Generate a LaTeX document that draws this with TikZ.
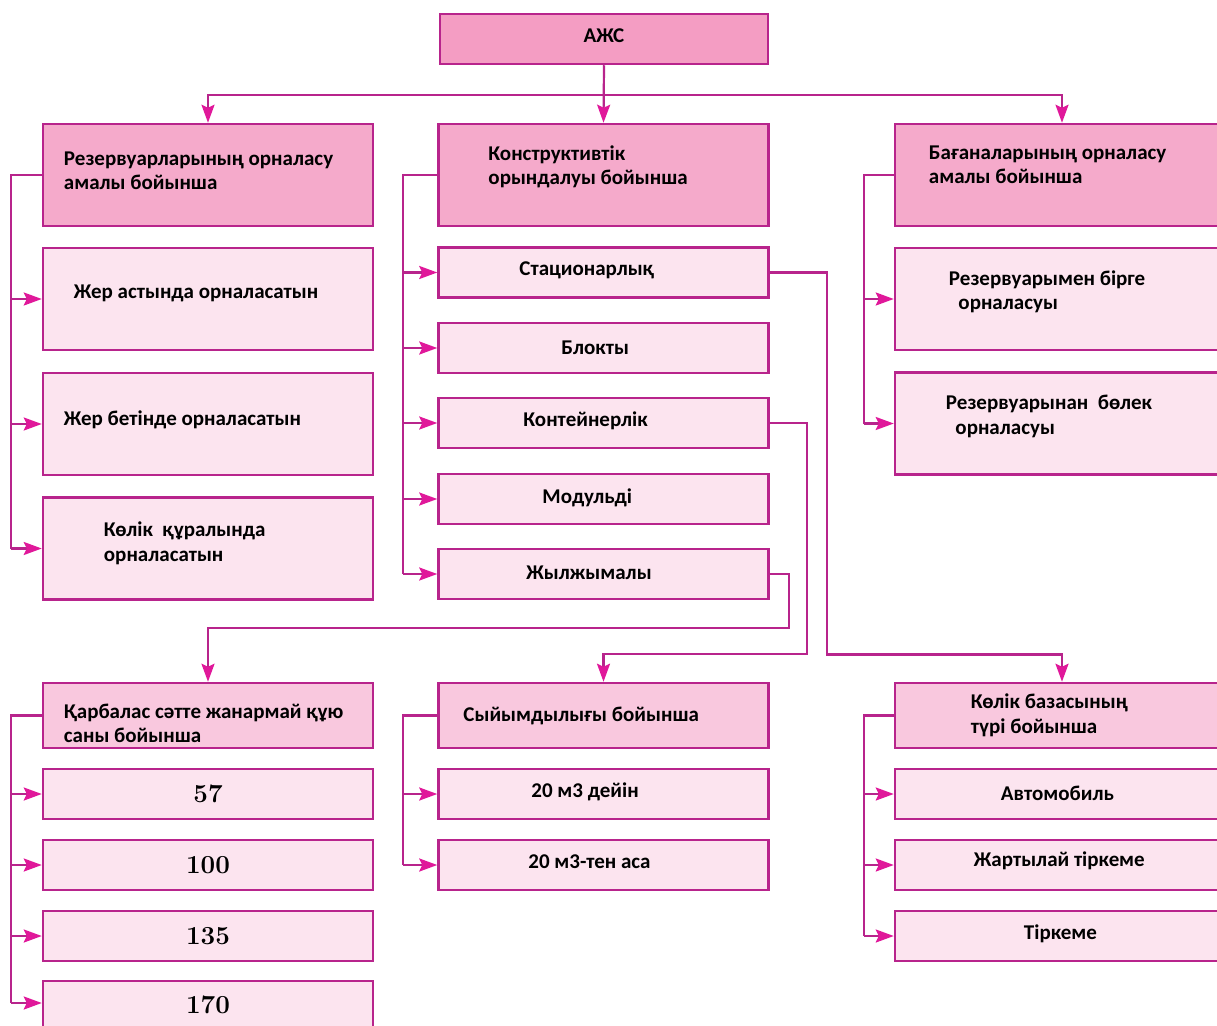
\documentclass[tikz,border=0pt]{standalone}
\usepackage{fontspec}
\setsansfont{Carlito}
\usetikzlibrary{arrows.meta}

\definecolor{edge}{HTML}{B8248C}
\definecolor{tip}{HTML}{E0189A}
\definecolor{rootfill}{HTML}{F49DC3}
\definecolor{headfill}{HTML}{F5AACB}
\definecolor{subfill}{HTML}{F9C8DE}
\definecolor{leaffill}{HTML}{FCE4EF}

\begin{document}
\begin{tikzpicture}[x=1pt, y=-1pt,
    box/.style={draw=edge, line width=2.5pt, inner sep=0pt},
    root/.style={box, fill=rootfill, minimum width=328, minimum height=50},
    head/.style={box, fill=headfill, minimum width=330, minimum height=102},
    sub/.style={box, fill=subfill, minimum width=330, minimum height=65},
    tall/.style={box, fill=leaffill, minimum width=330, minimum height=102},
    leaf/.style={box, fill=leaffill, minimum width=330, minimum height=50},
    wide/.style={minimum width=334},
    txt/.style={inner sep=0pt, anchor=west, align=left,
                font=\sffamily\bfseries\fontsize{21}{24.5}\selectfont},
    num/.style={inner sep=0pt, font=\rmfamily\bfseries\fontsize{26}{30}\selectfont},
    line/.style={draw=edge, line width=2.2pt},
    flow/.style={line, -{Stealth[length=18pt, width=13pt, inset=3pt, color=tip, fill=tip]}},
]

    \useasboundingbox (0,0) rectangle (1217,1025);
    \fill[white] (0,0) rectangle (1217,1025);
    \clip (0,0) rectangle (1217,1025);

    % top level
    \node[root] (azs) at (604,39) {};
    \node[txt, anchor=center] (azs-l) at ([yshift=3]azs.center) {АЖС};

    \node[head] (res) at (208,175) {};
    \node[head] (con) at (603.5,175) {};
    \node[head, wide] (bag) at (1062,175) {};
    \node[txt] (res-l) at ([xshift=22, yshift=4]res.west) {Резервуарларының орналасу\\амалы бойынша};
    \node[txt] (con-l) at ([xshift=51, yshift=8]con.west) {Конструктивтік\\орындалуы бойынша};
    \node[txt] (bag-l) at ([xshift=35, yshift=10]bag.west) {Бағаналарының орналасу\\амалы бойынша};

    \draw[flow] (azs.south) -- (con.north);
    \coordinate (top) at (azs.south |- 0,95);
    \draw[flow] (top) -| (res.north);
    \draw[flow] (top) -| (bag.north);

    % reservoirs
    \node[tall] (res1) at (208,299) {};
    \node[tall] (res2) at (208,424) {};
    \node[tall] (res3) at (208,548.5) {};
    \node[txt] (res1-l) at ([xshift=32, yshift=6]res1.west) {Жер астында орналасатын};
    \node[txt] (res2-l) at ([xshift=22, yshift=4]res2.west) {Жер бетінде орналасатын};
    \node[txt] (res3-l) at ([xshift=62, yshift=5]res3.west) {Көлік\ \ құралында\\орналасатын};

    % construction
    \node[leaf] (stat) at (603.5,272.5) {};
    \node[leaf] (blok) at (603.5,348) {};
    \node[leaf] (kont) at (603.5,423) {};
    \node[leaf] (modul) at (603.5,499) {};
    \node[leaf] (zhyl) at (603.5,574) {};
    \node[txt] (stat-l) at ([xshift=82, yshift=2]stat.west) {Стационарлық};
    \node[txt] (blok-l) at ([xshift=124]blok.west) {Блокты};
    \node[txt] (kont-l) at ([xshift=86, yshift=2]kont.west) {Контейнерлік};
    \node[txt] (modul-l) at ([xshift=105, yshift=1]modul.west) {Модульді};
    \node[txt] (zhyl-l) at ([xshift=89, yshift=1]zhyl.west) {Жылжымалы};

    % columns
    \node[tall, wide] (bag1) at (1062,299) {};
    \node[tall, wide] (bag2) at (1062,423.5) {};
    \node[txt] (bag1-l) at ([xshift=55, yshift=7]bag1.west) {Резервуарымен бірге\\\ \ орналасуы};
    \node[txt] (bag2-l) at ([xshift=52, yshift=7]bag2.west) {Резервуарынан\ \ бөлек\\\ \ орналасуы};

    \draw[line] (res.west) -- ++(-31,0) coordinate (resbus) -- (resbus |- res3.west);
    \foreach \k in {res1,res2,res3}
        \draw[flow] (resbus |- \k.west) -- (\k.west);

    \draw[line] (con.west) -- ++(-34,0) coordinate (conbus) -- (conbus |- zhyl.west);
    \foreach \k in {stat,blok,kont,modul,zhyl}
        \draw[flow] (conbus |- \k.west) -- (\k.west);

    \draw[line] (bag.west) -- ++(-30,0) coordinate (bagbus) -- (bagbus |- bag2.west);
    \foreach \k in {bag1,bag2}
        \draw[flow] (bagbus |- \k.west) -- (\k.west);

    % lower level
    \node[sub] (qar) at (208,715.5) {};
    \node[sub] (syi) at (603.5,715.5) {};
    \node[sub, wide] (kol) at (1062,715.5) {};
    \node[txt] (qar-l) at ([xshift=22, yshift=-8]qar.west) {Қарбалас сәтте жанармай құю\\саны бойынша};
    \node[txt] (syi-l) at ([xshift=26]syi.west) {Сыйымдылығы бойынша};
    \node[txt] (kol-l) at ([xshift=77]kol.west) {Көлік базасының\\түрі бойынша};

    \draw[flow] (zhyl.east) -| ++(19,54) -| (qar.north);
    \draw[flow] (kont.east) -| ++(37,231) -| (syi.north);
    \draw[flow] (stat.east) -| ++(57,382) -| (kol.north);

    \node[leaf] (n57) at (208,794) {};
    \node[leaf] (n100) at (208,865) {};
    \node[leaf] (n135) at (208,936) {};
    \node[leaf] (n170) at (208,1006) {};
    \node[num] (n57-l) at (n57) {57};
    \node[num] (n100-l) at (n100) {100};
    \node[num] (n135-l) at (n135) {135};
    \node[num] (n170-l) at ([yshift=1]n170.center) {170};

    \node[leaf] (vol1) at (603.5,794) {};
    \node[leaf] (vol2) at (603.5,865) {};
    \node[txt] (vol1-l) at ([xshift=94, yshift=2]vol1.west) {20 м3 дейін};
    \node[txt] (vol2-l) at ([xshift=91, yshift=3]vol2.west) {20 м3-тен аса};

    \node[leaf, wide] (tr1) at (1062,794) {};
    \node[leaf, wide] (tr2) at (1062,865) {};
    \node[leaf, wide] (tr3) at (1062,936) {};
    \node[txt] (tr1-l) at ([xshift=107, yshift=1]tr1.west) {Автомобиль};
    \node[txt] (tr2-l) at ([xshift=80, yshift=4]tr2.west) {Жартылай тіркеме};
    \node[txt] (tr3-l) at ([xshift=130, yshift=2]tr3.west) {Тіркеме};

    \draw[line] (qar.west) -- ++(-31,0) coordinate (qarbus) -- (qarbus |- 0,1003);
    \foreach \k in {n57,n100,n135}
        \draw[flow] (qarbus |- \k.west) -- (\k.west);
    \draw[flow] (qarbus |- 0,1003) -- (n170.west |- 0,1003);

    \draw[line] (syi.west) -- ++(-34,0) coordinate (syibus) -- (syibus |- vol2.west);
    \foreach \k in {vol1,vol2}
        \draw[flow] (syibus |- \k.west) -- (\k.west);

    \draw[line] (kol.west) -- ++(-30,0) coordinate (kolbus) -- (kolbus |- tr3.west);
    \foreach \k in {tr1,tr2,tr3}
        \draw[flow] (kolbus |- \k.west) -- (\k.west);

\end{tikzpicture}
\end{document}
